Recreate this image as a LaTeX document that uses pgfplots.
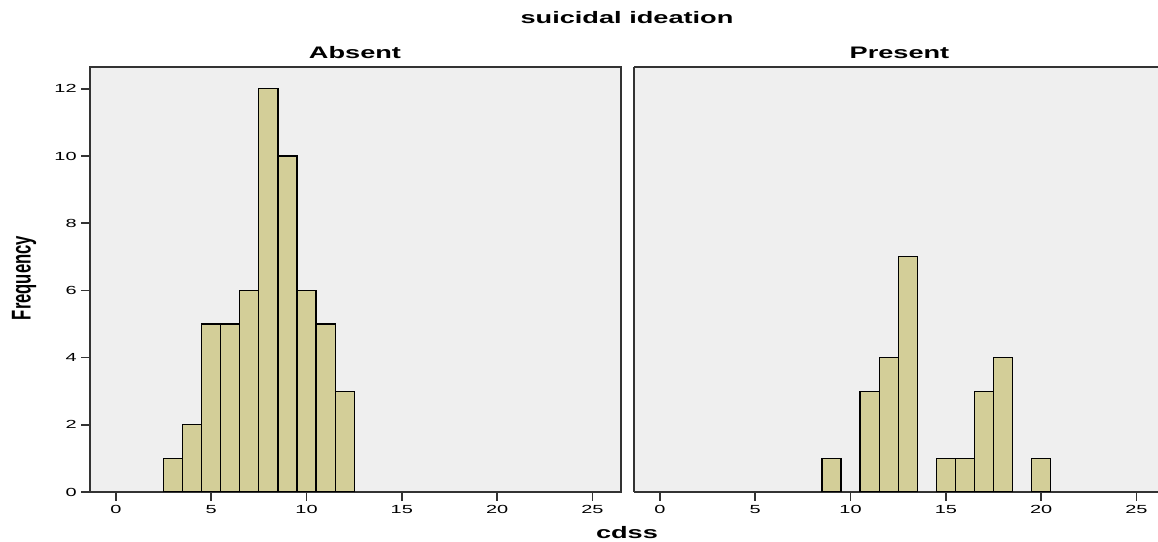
\documentclass[border=0pt]{standalone}
\usepackage{pgfplots}
\pgfplotsset{compat=1.18}
\usepackage{fontspec}
\setmainfont{Liberation Sans}

\definecolor{barfill}{RGB}{211,206,152}
\definecolor{panelbg}{RGB}{239,239,239}
\definecolor{framecol}{RGB}{51,51,51}

% SPSS output looks stretched sideways, so text is widened
\newcommand{\wtick}[1]{\scalebox{1.7}[1]{#1}}
\newcommand{\wlab}[1]{\scalebox{1.63}[1]{\bfseries #1}}

\pgfplotstableread{
x  n
3  1
4  2
5  5
6  5
7  6
8  12
9  10
10 6
11 5
12 3
}\absent

\pgfplotstableread{
x  n
9  1
11 3
12 4
13 7
15 1
16 1
17 3
18 4
20 1
}\present

\pgfplotsset{
  panel/.style={
    scale only axis,
    height=318.75pt,
    xmin=-1.36, ymin=0, ymax=12.65,
    ybar, bar width=1,
    axis background/.style={fill=panelbg},
    axis line style={framecol, line width=1.1pt},
    tick style={framecol, line width=1.3pt},
    tick align=outside, major tick length=6.5pt,
    xtick pos=lower, ytick pos=left,
    xtick={0,5,...,25}, minor tick num=0,
    ytick={0,2,...,12},
    /pgf/number format/assume math mode=true,
    ticklabel style={font=\fontsize{8.8}{10}\selectfont},
    xticklabel={\wtick{\pgfmathprintnumber{\tick}}},
    yticklabel={\wtick{\pgfmathprintnumber{\tick}}},
  },
}

\begin{document}
\begin{tikzpicture}
  \begin{axis}[panel, width=398.25pt, xmax=26.5]
    \addplot[fill=barfill, draw=black, line width=0.9pt] table[x=x, y=n] {\absent};
  \end{axis}

  \begin{axis}[panel, at={(408pt,0pt)}, width=393pt, xmax=26.13,
      axis x line*=box, axis y line*=left,
      ymajorticks=false, yticklabels={}]
    \addplot[fill=barfill, draw=black, line width=0.9pt] table[x=x, y=n] {\present};
  \end{axis}

  \node[font=\fontsize{12.5}{15}\selectfont] at (402.75pt,355.5pt) {\wlab{suicidal ideation}};
  \node[font=\fontsize{12.5}{15}\selectfont] at (198.75pt,329.25pt) {\wlab{Absent}};
  \node[font=\fontsize{12.5}{15}\selectfont] at (607.1pt,329.25pt) {\wlab{Present}};
  \node[font=\fontsize{12.5}{15}\selectfont] at (402.75pt,-30.75pt) {\wlab{cdss}};
  \node[font=\fontsize{12.5}{15}\selectfont, rotate=90] at (-49.5pt,160.5pt)
    {\scalebox{1}[1.63]{\bfseries Frequency}};

  \pgfresetboundingbox
  \useasboundingbox (-67.5pt,-37.5pt) rectangle (801pt,369pt);
\end{tikzpicture}
\end{document}
